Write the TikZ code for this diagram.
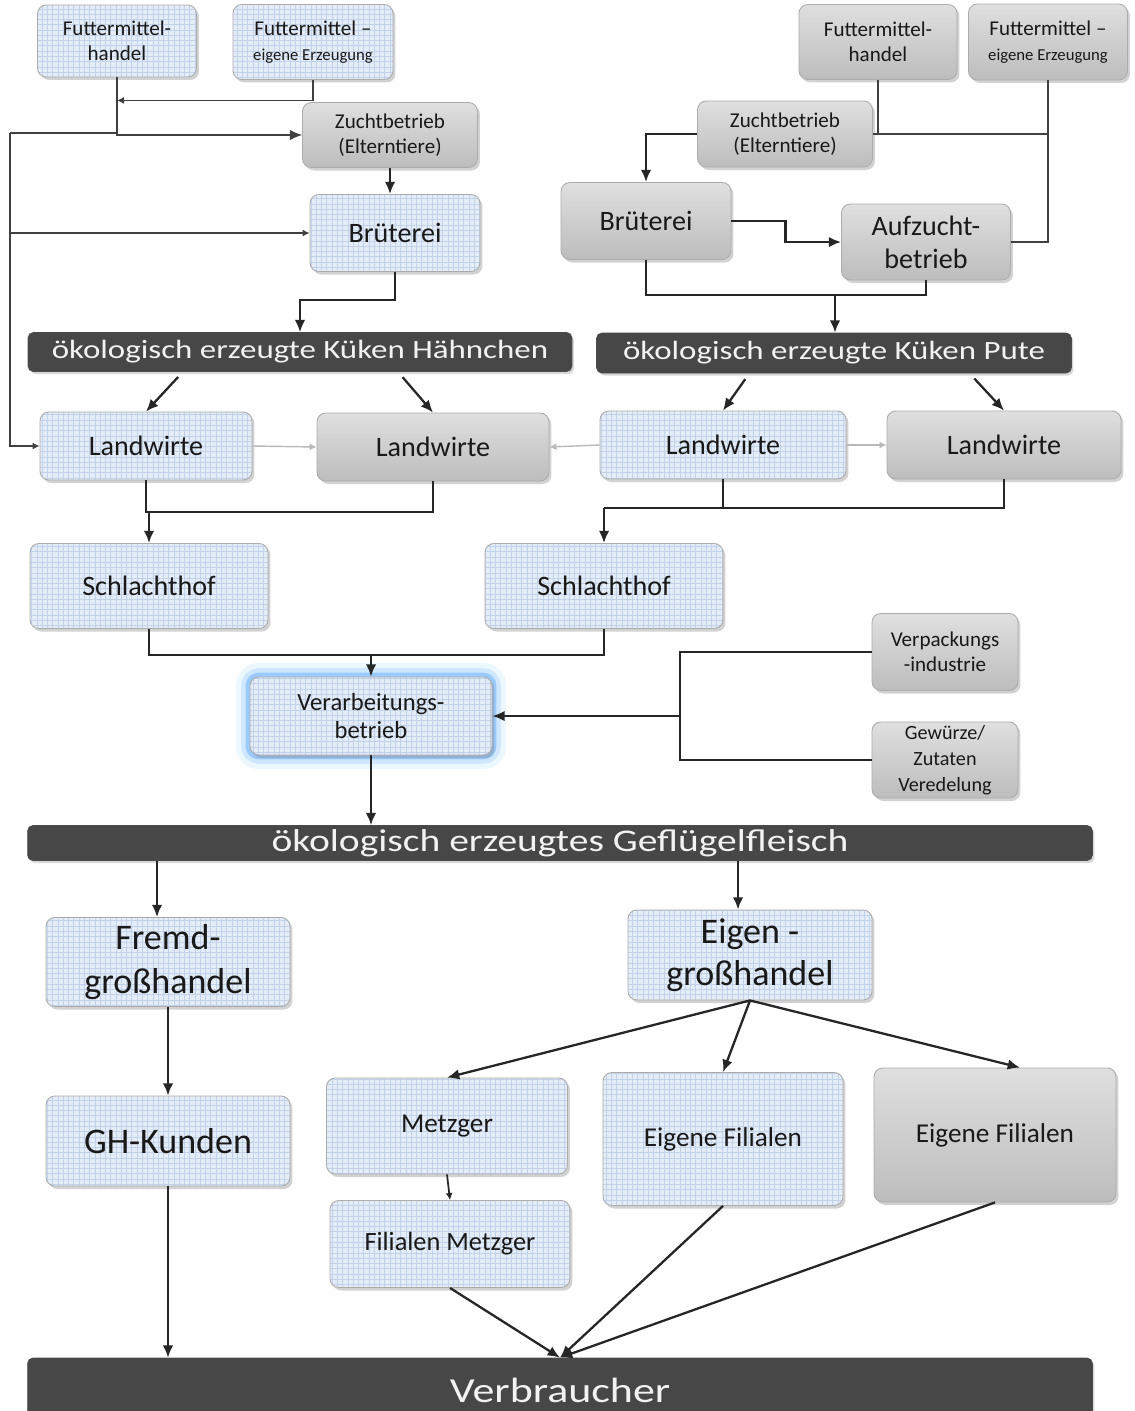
\documentclass[tikz,border=0pt]{standalone}
\usepackage{fontspec}
\setmainfont{Carlito}
\newfontfamily\widefont[FakeStretch=1.25]{Carlito}
\usetikzlibrary{arrows.meta}
\usetikzlibrary{calc}
\usetikzlibrary{patterns}
\usetikzlibrary{positioning}
\usetikzlibrary{shadows}

\definecolor{boxblue}{HTML}{E4ECF7}
\definecolor{gridblue}{HTML}{C2D2E8}
\definecolor{bannergray}{HTML}{474747}
\newcommand{\fsz}[2]{\fontsize{#1}{#2}\selectfont}

\begin{document}
\begin{tikzpicture}[
		x=0.02cm,y=-0.02cm,
		>={Latex[length=7pt,width=6pt]},
		box/.style={rounded corners=5pt,draw=gray!65,line width=0.5pt,align=center,text=black!90,inner sep=1pt,
			drop shadow={opacity=0.35,shadow xshift=0.05cm,shadow yshift=-0.06cm}},
		bluebox/.style={box,preaction={fill=boxblue},pattern=grid,pattern color=gridblue},
		graybox/.style={box,top color=gray!25,bottom color=gray!52},
		banner/.style={rounded corners=3pt,fill=bannergray,draw=black!70,text=black!5,inner sep=0pt,
			drop shadow={opacity=0.3,shadow xshift=0.04cm,shadow yshift=-0.05cm}},
		glow/.style={preaction={draw=blue!40!cyan!60,line width=16pt,opacity=0.12},
			preaction={draw=blue!50!cyan!70,line width=10pt,opacity=0.18},
			preaction={draw=blue!55!cyan,line width=5pt,opacity=0.25}},
		main/.style={line width=1.3pt,draw=black!85},
		feed/.style={line width=0.7pt,draw=black!75},
		faint/.style={line width=0.8pt,draw=gray!55},
		small tip/.style={-{Latex[length=4pt,width=4pt]}}
	]
	\useasboundingbox (0,0) rectangle (1134,1411);
	\fill[white] (0,0) rectangle (1134,1411);

	% Haehnchen
	\node[bluebox,minimum width=3.18cm,minimum height=1.44cm,font=\fsz{12}{14}] (fmh1) at (117,41) {Futtermittel-\\handel};
	\node[bluebox,minimum width=3.2cm,minimum height=1.5cm,font=\fsz{12}{14}] (fme1) at (313,42) {Futtermittel –\\{\fsz{9.5}{11}eigene Erzeugung}};
	\node[graybox,minimum width=3.5cm,minimum height=1.3cm,font=\fsz{12}{14.5}] (zucht1) at (390,135) {Zuchtbetrieb\\(Elterntiere)};
	\node[bluebox,minimum width=3.4cm,minimum height=1.54cm,font=\fsz{16}{19}] (brut1) at (395,233) {Brüterei};

	% Pute
	\node[graybox,minimum width=3.16cm,minimum height=1.5cm,font=\fsz{12}{14}] (fmh2) at (878,42) {Futtermittel-\\handel};
	\node[graybox,minimum width=3.18cm,minimum height=1.52cm,font=\fsz{12}{14}] (fme2) at (1048,42) {Futtermittel –\\{\fsz{9.5}{11}eigene Erzeugung}};
	\node[graybox,minimum width=3.5cm,minimum height=1.32cm,font=\fsz{12}{14.5}] (zucht2) at (785,134) {Zuchtbetrieb\\(Elterntiere)};
	\node[graybox,minimum width=3.4cm,minimum height=1.54cm,font=\fsz{16}{19}] (brut2) at (646,221) {Brüterei};
	\node[graybox,minimum width=3.38cm,minimum height=1.52cm,font=\fsz{16}{18.7}] (auf) at (926,242) {Aufzucht-\\betrieb};

	\node[banner,minimum width=10.88cm,minimum height=0.78cm,font=\widefont\fsz{15}{18}] (kh) at (300,352) {ökologisch erzeugte Küken Hähnchen};
	\node[banner,minimum width=9.5cm,minimum height=0.8cm,font=\widefont\fsz{15}{18}] (kp) at (834,353) {ökologisch erzeugte Küken Pute};

	% Landwirte
	\node[bluebox,minimum width=4.24cm,minimum height=1.36cm,font=\fsz{16}{19}] (lw1) at (146,446) {Landwirte};
	\node[graybox,minimum width=4.64cm,minimum height=1.36cm,font=\fsz{16}{19}] (lw2) at (433,447) {Landwirte};
	\node[bluebox,minimum width=4.92cm,minimum height=1.36cm,font=\fsz{16}{19}] (lw3) at (723,445) {Landwirte};
	\node[graybox,minimum width=4.68cm,minimum height=1.36cm,font=\fsz{16}{19}] (lw4) at (1004,445) {Landwirte};

	\node[bluebox,minimum width=4.76cm,minimum height=1.7cm,font=\fsz{16}{19}] (s1) at (149,586) {Schlachthof};
	\node[bluebox,minimum width=4.76cm,minimum height=1.7cm,font=\fsz{16}{19}] (s2) at (604,586) {Schlachthof};

	\node[glow,bluebox,minimum width=4.84cm,minimum height=1.56cm,font=\fsz{14}{16.4}] (va) at (371,716) {Verarbeitungs-\\betrieb};
	\node[graybox,minimum width=2.92cm,minimum height=1.54cm,font=\fsz{12}{14}] (verp) at (945,652) {Verpackungs\\-industrie};
	\node[graybox,minimum width=2.92cm,minimum height=1.52cm,font=\fsz{11.5}{14.7}] (gew) at (945,760) {Gewürze/\\Zutaten\\Veredelung};

	\node[banner,minimum width=21.3cm,minimum height=0.7cm,font=\widefont\fsz{18}{20}] (gf) at (560,843) {ökologisch erzeugtes Geflügelfleisch};

	% Handel
	\node[bluebox,minimum width=4.88cm,minimum height=1.78cm,font=\fsz{20.5}{25}] (fremd) at (168,962) {Fremd-\\großhandel};
	\node[bluebox,minimum width=4.88cm,minimum height=1.8cm,font=\fsz{20.5}{24}] (eigen) at (750,955) {Eigen -\\großhandel};
	\node[bluebox,minimum width=4.88cm,minimum height=1.8cm,font=\fsz{20.5}{24}] (gh) at (168,1141) {GH-Kunden};
	\node[bluebox,minimum width=4.82cm,minimum height=1.92cm,font=\fsz{15.5}{18}] (metz) at (447,1126) {Metzger};
	\node[bluebox,minimum width=4.8cm,minimum height=1.74cm,font=\fsz{15}{18}] (film) at (450,1244) {Filialen Metzger};
	\node[bluebox,minimum width=4.8cm,minimum height=2.66cm,font=\fsz{15.5}{18}] (ef1) at (723,1139) {Eigene Filialen};
	\node[graybox,minimum width=4.84cm,minimum height=2.68cm,font=\fsz{15.5}{18}] (ef2) at (995,1135) {Eigene Filialen};

	\node[banner,minimum width=21.3cm,minimum height=1.28cm,font=\widefont\fsz{20}{24}] (vb) at (560,1390) {Verbraucher};

	% Futter links
	\draw[feed,->] (fmh1.south) |- (zucht1.west);
	\draw[feed,small tip] (fme1.south) |- ($(fmh1.south)+(0,23)$);
	\coordinate (lp) at (10,133);
	\draw[feed] (fmh1.south |- lp) -- (lp);
	\draw[feed,small tip] (lp) |- (lw1.west);
	\draw[feed,small tip] (lp |- brut1.west) -- (brut1.west);
	\draw[main,->] (zucht1.south) -- (zucht1.south |- brut1.north);
	\draw[main,->] (brut1.south) -- ++(0,28) -| (kh.north);

	% Futter rechts
	\draw[feed] (fmh2.south) |- (zucht2.east);
	\draw[feed] (zucht2.east) -- (fme2.south |- zucht2.east);
	\draw[feed] (fme2.south) |- (auf.east);
	\draw[main,->] (zucht2.west) -| (brut2.north);
	\draw[main,->] (brut2.east) -- ++(54,0) |- (auf.west);
	\coordinate (pj) at (835,295);
	\draw[main] (brut2.south) |- (pj) -| (auf.south);
	\draw[main,->] (pj) -- (pj |- kp.north);

	% Kueken
	\draw[main,->,shorten <=4pt] ($(kh.south west)!0.285!(kh.south east)$) -- (lw1.north);
	\draw[main,->,shorten <=4pt] ($(kh.south west)!0.68!(kh.south east)$) -- (lw2.north);
	\draw[main,->,shorten <=4pt] ($(kp.south west)!0.322!(kp.south east)$) -- (lw3.north);
	\draw[main,->,shorten <=4pt] ($(kp.south west)!0.785!(kp.south east)$) -- (lw4.north);
	\draw[faint,small tip] (lw1.east) -- (lw2.west);
	\draw[faint,small tip] (lw3.west) -- (lw2.east);
	\draw[faint,small tip] (lw3.east) -- (lw4.west);

	% Schlachtung
	\coordinate (lwl) at (0,512);
	\coordinate (lwr) at (0,508);
	\draw[main] (lw1.south) |- (lwl -| lw2.south) -- (lw2.south);
	\draw[main,->] (lwl -| s1.north) -- (s1.north);
	\draw[main] (lw4.south) |- (lwr -| s2.north);
	\draw[main] (lw3.south) -- (lw3.south |- lwr);
	\draw[main,->] (lwr -| s2.north) -- (s2.north);
	\coordinate (sj) at (0,655);
	\draw[main] (s1.south) |- (sj -| s2.south) -- (s2.south);
	\draw[main,->] (sj -| va.north) -- (va.north);
	\coordinate (zj) at (680,0);
	\draw[main] (verp.west) -| (zj |- gew.west) -- (gew.west);
	\draw[main,->] (zj |- va.east) -- (va.east);
	\draw[main,->] (va.south) -- (va.south |- gf.north);

	% Vermarktung
	\draw[main,->] ([xshift=-0.22cm]fremd.north |- gf.south) -- ([xshift=-0.22cm]fremd.north);
	\draw[main,->] ([xshift=-0.24cm]eigen.north |- gf.south) -- ([xshift=-0.24cm]eigen.north);
	\draw[main,->] (fremd.south) -- (gh.north);
	\draw[main,->] (eigen.south) -- (metz.north);
	\draw[main,->] (eigen.south) -- (ef1.north);
	\draw[main,->] (eigen.south) -- ([xshift=0.5cm]ef2.north);
	\draw[main,line width=1pt,small tip] (metz.south) -- (film.north);
	\draw[main,->] (gh.south) -- (gh.south |- vb.north);
	\draw[main,->] (film.south) -- (vb.north);
	\draw[main,->] (ef1.south) -- (vb.north);
	\draw[main,->] (ef2.south) -- (vb.north);
\end{tikzpicture}
\end{document}
